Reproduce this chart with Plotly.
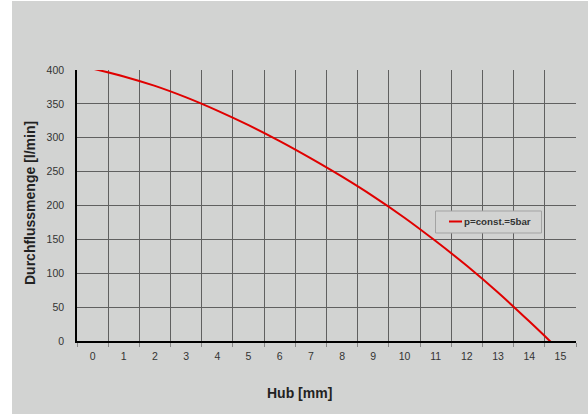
import plotly.graph_objects as go

# ---- data ----
hub_mm = list(range(16))
tick_labels = [str(v) for v in hub_mm]
flow_lpm = [402, 390.5, 376.5, 359.5, 340, 318.5, 295, 269.5, 242.5, 213.5,
            182, 147.5, 111, 71.5, 29, -15]
series_name = "p=const.=5bar"
y_ticks = list(range(0, 401, 50))

W, H = 588, 414
L, R, T, B = 77, 12, 70, 73
PW, PH = W - L - R, H - T - B


def px_x(p):
    return (p - L) / PW


def px_y(p):
    return (H - B - p) / PH


BG = "#d2d3d2"
GRID = "#606060"
RED = "#e00000"
FONT = "Liberation Sans, Arial, sans-serif"

fig = go.Figure()
fig.add_trace(go.Scatter(
    x=hub_mm, y=flow_lpm, mode="lines", name=series_name,
    line=dict(color=RED, width=2, shape="spline", smoothing=1),
    showlegend=False, hoverinfo="skip",
))

fig.update_layout(
    width=W, height=H,
    margin=dict(l=L, r=R, t=T, b=B),
    paper_bgcolor=BG, plot_bgcolor=BG,
    font=dict(family=FONT, size=10.5, color="#333333"),
    xaxis=dict(
        range=[-0.5, 15.5], tickmode="array", tickvals=hub_mm, ticktext=tick_labels,
        showgrid=False, ticks="", zeroline=False,
        showline=True, linecolor="#000000", linewidth=1.5,
        ticklabelstandoff=5,
        minor=dict(tick0=-0.5, dtick=1, showgrid=True, gridcolor=GRID, gridwidth=1,
                   ticks="outside", ticklen=4, tickcolor="#888888", tickwidth=1),
    ),
    yaxis=dict(
        range=[0, 400], tickmode="array", tickvals=y_ticks,
        showgrid=True, gridcolor=GRID, gridwidth=1, ticks="", zeroline=False,
        showline=True, linecolor="#000000", linewidth=1.5,
        ticklabelstandoff=9,
    ),
    shapes=[
        # white strip at left edge
        dict(type="rect", xref="paper", yref="paper", x0=px_x(-5), x1=px_x(12),
             y0=px_y(H + 5), y1=px_y(-5), fillcolor="white", line=dict(width=0), layer="below"),
        dict(type="rect", xref="paper", yref="paper", x0=px_x(-5), x1=px_x(W + 5),
             y0=px_y(1), y1=px_y(-5), fillcolor="white", line=dict(width=0), layer="below"),
        # legend box
        dict(type="rect", xref="paper", yref="paper", x0=px_x(435.5), x1=px_x(541.5),
             y0=px_y(233), y1=px_y(211), fillcolor=BG, line=dict(color="#a3a3a3", width=1),
             layer="above"),
        dict(type="line", xref="paper", yref="paper", x0=px_x(449), x1=px_x(462),
             y0=px_y(221.5), y1=px_y(221.5), line=dict(color=RED, width=2), layer="above"),
    ],
    annotations=[
        dict(text=series_name, xref="paper", yref="paper", x=px_x(462), y=px_y(221.5),
             xanchor="left", yanchor="middle", showarrow=False,
             font=dict(family=FONT, size=9.75, color="#333333", weight="bold")),
        dict(text="Hub [mm]", xref="paper", yref="paper", x=px_x(299), y=px_y(393),
             xanchor="center", yanchor="middle", showarrow=False,
             font=dict(family=FONT, size=14, color="#222222", weight="bold")),
        dict(text="Durchflussmenge [l/min]", xref="paper", yref="paper", x=px_x(30),
             y=px_y(203), xanchor="center", yanchor="middle", textangle=-90, showarrow=False,
             font=dict(family=FONT, size=14, color="#222222", weight="bold")),
    ],
)

fig.write_html("out.html", config={"displayModeBar": False},
               post_script="document.body.style.margin='0';")
